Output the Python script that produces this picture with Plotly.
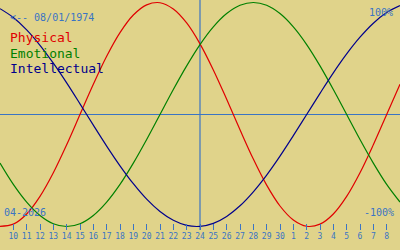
import plotly.graph_objects as go

# day index: April days 9..30, then May 1..9 as 31..39
days = list(range(9, 40))
physical = [-0.998, -0.979, -0.888, -0.731, -0.520, -0.270, 0.0, 0.270, 0.520, 0.731,
            0.888, 0.979, 0.998, 0.942, 0.817, 0.631, 0.398, 0.136, -0.136, -0.398,
            -0.631, -0.817, -0.942, -0.998, -0.979, -0.888, -0.731, -0.520, -0.270, 0.0,
            0.270]
emotional = [-0.434, -0.624, -0.782, -0.901, -0.975, -1.0, -0.975, -0.901, -0.782, -0.624,
             -0.434, -0.223, 0.0, 0.223, 0.434, 0.624, 0.782, 0.901, 0.975, 1.0,
             0.975, 0.901, 0.782, 0.624, 0.434, 0.223, 0.0, -0.223, -0.434, -0.624,
             -0.782]
intellectual = [0.945, 0.866, 0.756, 0.618, 0.458, 0.282, 0.095, -0.095, -0.282, -0.458,
                -0.618, -0.756, -0.866, -0.945, -0.990, -0.999, -0.972, -0.910, -0.815, -0.690,
                -0.541, -0.372, -0.189, 0.0, 0.189, 0.372, 0.541, 0.690, 0.815, 0.910,
                0.972]
tick_days = list(range(10, 39))
tick_labels = [str(d) for d in range(10, 31)] + [str(d) for d in range(1, 9)]
today = 24
birth_label = "<-- 08/01/1974"
month_label = "04-2026"

BG = "#e0d38a"
BLUE = "#3a74c4"
RED = "#e00000"
GREEN = "#008000"
NAVY = "#00008c"
MONO = "DejaVu Sans Mono"

fig = go.Figure()
for vals, col in [(physical, RED), (emotional, GREEN), (intellectual, NAVY)]:
    fig.add_trace(go.Scatter(x=days, y=vals, mode="lines",
                             line=dict(color=col, width=1.2, shape="spline"),
                             hoverinfo="skip", showlegend=False))

PH = 230.0
def py(p):
    return 1 - p / PH

fig.add_shape(type="line", xref="x", yref="paper", x0=today, x1=today, y0=0, y1=1,
              line=dict(color=BLUE, width=1.2), layer="below")

ann = []
ann.append(dict(text=birth_label, x=9 / 400, y=py(17), xanchor="left",
                font=dict(family=MONO, size=10, color=BLUE)))
for i, (name, col) in enumerate([("Physical", RED), ("Emotional", GREEN), ("Intellectual", NAVY)]):
    ann.append(dict(text=name, x=9 / 400, y=py(38 + 15 * i), xanchor="left",
                    font=dict(family=MONO, size=13, color=col)))
ann.append(dict(text="100%", x=394 / 400, y=py(12), xanchor="right",
                font=dict(family=MONO, size=10, color=BLUE)))
ann.append(dict(text="-100%", x=395 / 400, y=py(212), xanchor="right",
                font=dict(family=MONO, size=10, color=BLUE)))
ann.append(dict(text=month_label, x=3 / 400, y=py(212), xanchor="left",
                font=dict(family=MONO, size=10, color=BLUE)))
for a in ann:
    a.update(xref="paper", yref="paper", yanchor="middle", showarrow=False, borderpad=0)

fig.update_layout(
    width=400, height=250, margin=dict(l=0, r=0, t=0, b=20),
    paper_bgcolor=BG, plot_bgcolor=BG, annotations=ann,
    xaxis=dict(range=[9, 39], tickvals=tick_days, ticktext=tick_labels, tickangle=0,
               ticks="inside", ticklen=6, tickwidth=1, tickcolor=BLUE,
               showgrid=False, zeroline=False, showline=False,
               tickfont=dict(family=MONO, size=8, color=BLUE)),
    yaxis=dict(range=[-1.03125, 1.0223], showticklabels=False, showgrid=False,
               zeroline=True, zerolinecolor=BLUE, zerolinewidth=1, showline=False),
)
fig.write_html("out.html")
